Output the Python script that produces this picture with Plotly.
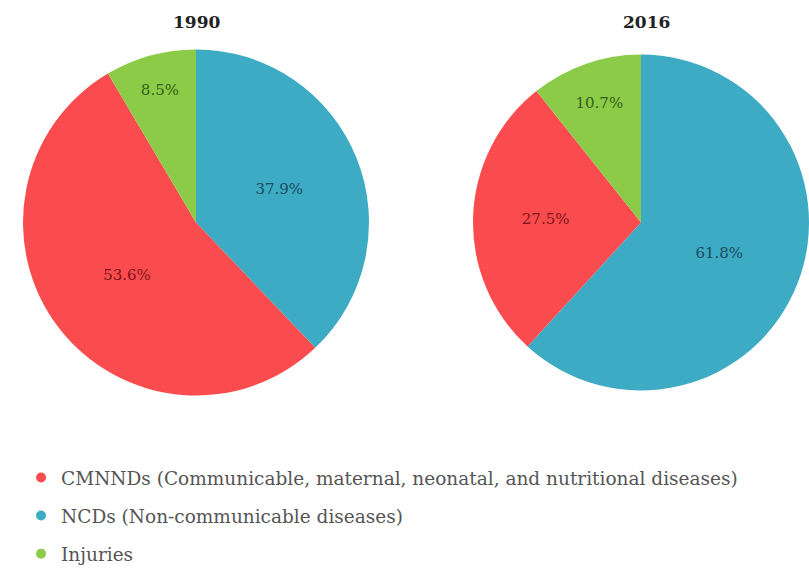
import plotly.graph_objects as go

# ---- data ----
years = ["1990", "2016"]
categories = ["NCDs", "CMNNDs", "Injuries"]  # clockwise from 12 o'clock
values_1990 = [37.9, 53.6, 8.5]
values_2016 = [61.8, 27.5, 10.7]
legend_labels = [
    "CMNNDs (Communicable, maternal, neonatal, and nutritional diseases)",
    "NCDs (Non-communicable diseases)",
    "Injuries",
]
legend_keys = ["CMNNDs", "NCDs", "Injuries"]

colors = {"NCDs": "#3DABC3", "CMNNDs": "#FA4C4E", "Injuries": "#8CCB47"}
text_colors = {"NCDs": "#1B4A60", "CMNNDs": "#7A1418", "Injuries": "#33601A"}

W, H = 809, 573
FONT = "DejaVu Serif"

fig = go.Figure()

pie_px = [(23, 369), (473, 809)]
pie_top, pie_bot = 49, 396
title_px = [196, 646]
for yr, vals, (x0, x1), tx in zip(years, [values_1990, values_2016], pie_px, title_px):
    fig.add_trace(go.Pie(
        labels=categories,
        values=vals,
        sort=False,
        direction="clockwise",
        rotation=0,
        marker=dict(colors=[colors[c] for c in categories], line=dict(width=0)),
        texttemplate="%{value:.1f}%",
        textposition="inside",
        insidetextorientation="horizontal",
        insidetextfont=dict(family=FONT, size=15, color=[text_colors[c] for c in categories]),
        showlegend=False,
        hoverinfo="label+percent",
        domain=dict(x=[x0 / W, x1 / W], y=[1 - pie_bot / H, 1 - pie_top / H]),
    ))
    fig.add_annotation(
        text=f"<b>{yr}</b>", x=tx / W, y=1 - 22 / H,
        xref="paper", yref="paper", showarrow=False,
        font=dict(family=FONT, size=17, color="#222"),
        xanchor="center", yanchor="middle",
    )

for key, lab in zip(legend_keys, legend_labels):
    fig.add_trace(go.Scatter(
        x=[None], y=[None], mode="markers", name=lab,
        legendgroup=key,
        marker=dict(symbol="circle", size=10, color=colors[key]),
    ))

fig.update_layout(
    width=W, height=H,
    margin=dict(l=0, r=0, t=0, b=0),
    paper_bgcolor="white", plot_bgcolor="white",
    xaxis=dict(visible=False), yaxis=dict(visible=False),
    legend=dict(
        x=0.026, y=0, xanchor="left", yanchor="bottom",
        font=dict(family=FONT, size=18.5, color="#555"),
        tracegroupgap=11, itemwidth=30,
        bgcolor="rgba(0,0,0,0)",
    ),
    showlegend=True,
)

fig.write_html("out.html")
